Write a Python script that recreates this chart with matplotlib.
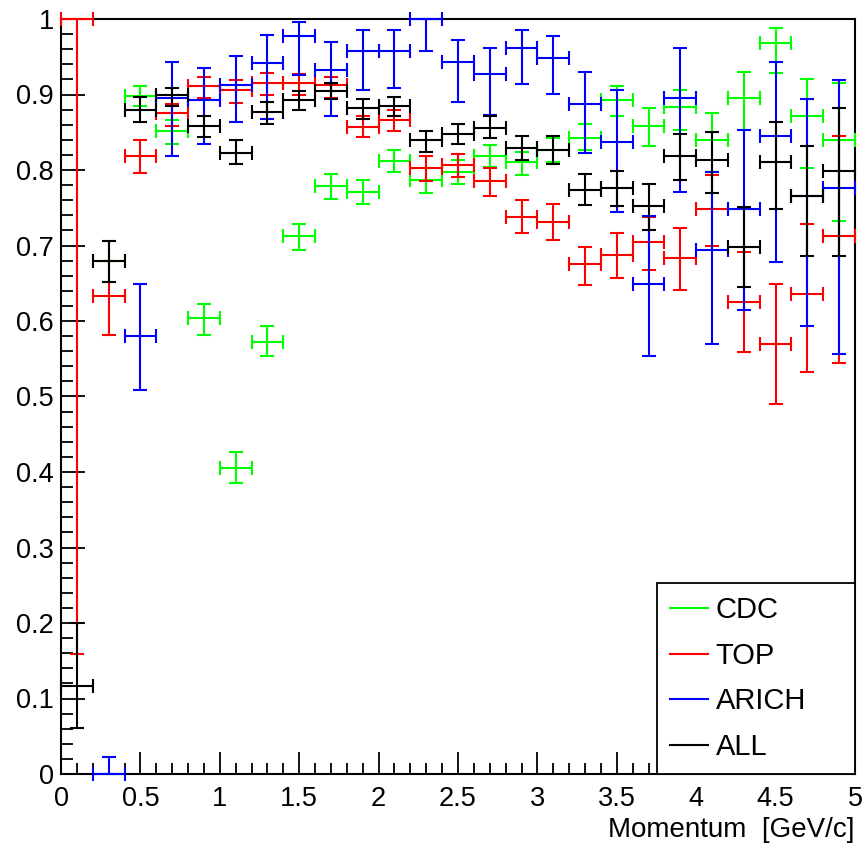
import numpy as np
import matplotlib.pyplot as plt
from matplotlib.lines import Line2D
from matplotlib.ticker import MultipleLocator, FormatStrFormatter

plt.rcParams['font.family'] = ['Liberation Sans', 'DejaVu Sans']

# momentum bins (GeV/c), 0.2 wide
p_centers = np.arange(0.1, 5.0, 0.2)
p_halfwidth = 0.1

# CDC efficiency and asymmetric errors
cdc = [np.nan, 0.680, 0.898, 0.852, 0.604, 0.405, 0.572, 0.712, 0.779, 0.771,
       0.812, 0.787, 0.798, 0.819, 0.810, 0.826, 0.843, 0.893, 0.858, 0.883,
       0.840, 0.895, 0.968, 0.872, 0.840]
cdc_lo = [0, 0.028, 0.013, 0.018, 0.022, 0.019, 0.019, 0.018, 0.017, 0.016,
          0.014, 0.017, 0.016, 0.015, 0.016, 0.016, 0.017, 0.021, 0.026, 0.030,
          0.042, 0.042, 0.040, 0.070, 0.108]
cdc_hi = [0, 0.026, 0.013, 0.014, 0.019, 0.021, 0.021, 0.016, 0.016, 0.016,
          0.014, 0.015, 0.015, 0.014, 0.014, 0.016, 0.018, 0.018, 0.024, 0.023,
          0.036, 0.035, 0.020, 0.049, 0.075]

# TOP
top = [1.0, 0.633, 0.819, 0.876, 0.911, 0.906, 0.915, 0.915, 0.912, 0.857,
       0.866, 0.802, 0.806, 0.785, 0.738, 0.731, 0.675, 0.688, 0.704, 0.684,
       0.749, 0.625, 0.569, 0.636, 0.713]
top_lo = [0.841, 0.051, 0.023, 0.018, 0.016, 0.017, 0.016, 0.015, 0.017, 0.013,
          0.015, 0.017, 0.015, 0.019, 0.021, 0.024, 0.027, 0.031, 0.036, 0.043,
          0.050, 0.066, 0.079, 0.104, 0.168]
top_hi = [0.0, 0.047, 0.021, 0.012, 0.012, 0.013, 0.013, 0.012, 0.011, 0.015,
          0.013, 0.017, 0.015, 0.017, 0.022, 0.024, 0.023, 0.029, 0.034, 0.039,
          0.045, 0.066, 0.080, 0.092, 0.132]

# ARICH
arich = [np.nan, 0.0, 0.580, 0.896, 0.893, 0.913, 0.942, 0.978, 0.932, 0.958,
         0.958, 1.0, 0.943, 0.927, 0.961, 0.948, 0.887, 0.837, 0.649, 0.895,
         0.694, 0.749, 0.845, 0.766, 0.776]
arich_lo = [0, 0.0, 0.071, 0.077, 0.058, 0.049, 0.074, 0.052, 0.060, 0.052,
            0.050, 0.043, 0.053, 0.054, 0.047, 0.047, 0.064, 0.092, 0.095, 0.124,
            0.125, 0.134, 0.167, 0.173, 0.220]
arich_hi = [0, 0.023, 0.069, 0.047, 0.042, 0.038, 0.037, 0.018, 0.037, 0.027,
            0.027, 0.0, 0.029, 0.034, 0.024, 0.029, 0.043, 0.069, 0.090, 0.066,
            0.104, 0.104, 0.098, 0.128, 0.143]

# ALL
allpid = [0.116, 0.679, 0.880, 0.899, 0.858, 0.823, 0.877, 0.893, 0.905, 0.882,
          0.885, 0.840, 0.848, 0.856, 0.829, 0.826, 0.774, 0.776, 0.752, 0.819,
          0.813, 0.698, 0.810, 0.766, 0.799]
allpid_lo = [0.055, 0.027, 0.017, 0.014, 0.014, 0.015, 0.016, 0.014, 0.011, 0.014,
             0.013, 0.016, 0.014, 0.013, 0.016, 0.018, 0.021, 0.024, 0.031, 0.032,
             0.043, 0.053, 0.061, 0.080, 0.113]
allpid_hi = [0.084, 0.027, 0.017, 0.010, 0.014, 0.017, 0.013, 0.011, 0.010, 0.012,
             0.012, 0.012, 0.013, 0.015, 0.016, 0.019, 0.021, 0.023, 0.029, 0.029,
             0.037, 0.053, 0.053, 0.066, 0.083]

series = [
    ("CDC", "#00ff00", cdc, cdc_lo, cdc_hi),
    ("TOP", "#ff0000", top, top_lo, top_hi),
    ("ARICH", "#0000ff", arich, arich_lo, arich_hi),
    ("ALL", "#000000", allpid, allpid_lo, allpid_hi),
]

fig = plt.figure(figsize=(8.66, 8.44), dpi=100)
ax = fig.add_axes([61 / 866, 1 - 774 / 844, 794 / 866, 755 / 844])

for i, (name, col, vals, lo, hi) in enumerate(series):
    eb = ax.errorbar(p_centers, vals, xerr=p_halfwidth, yerr=[lo, hi], fmt='none',
                     ecolor=col, elinewidth=1.5, capsize=5, capthick=1.5,
                     zorder=3 + i)
    for art in eb.lines[1] + eb.lines[2]:
        art.set_clip_on(False)

ax.set_xlim(0, 5)
ax.set_ylim(0, 1)

ax.xaxis.set_major_locator(MultipleLocator(0.5))
ax.xaxis.set_minor_locator(MultipleLocator(0.1))
ax.yaxis.set_major_locator(MultipleLocator(0.1))
ax.yaxis.set_minor_locator(MultipleLocator(0.02))
ax.xaxis.set_major_formatter(FormatStrFormatter('%g'))
ax.yaxis.set_major_formatter(FormatStrFormatter('%g'))

ax.tick_params(which='both', direction='in', top=False, right=False,
               width=1.3, labelsize=19.5)
ax.tick_params(axis='y', which='major', length=17, pad=5)
ax.tick_params(axis='y', which='minor', length=8.5)
ax.tick_params(axis='x', which='major', length=16, pad=9)
ax.tick_params(axis='x', which='minor', length=8)

for sp in ax.spines.values():
    sp.set_linewidth(1.5)

ax.set_xlabel('Momentum  [GeV/c]', loc='right', fontsize=20, labelpad=3)

handles = [Line2D([], [], color=col, lw=1.5) for _, col, _, _, _ in series]
labels = [s[0] for s in series]
leg = ax.legend(handles, labels, loc='lower left',
                bbox_to_anchor=(0.751, 0, 0.249, 0.249), mode='expand',
                fontsize=21, frameon=True, fancybox=False, framealpha=1,
                edgecolor='black', borderaxespad=0, borderpad=0.45,
                handlelength=1.3, handletextpad=0.25, labelspacing=0.6)
leg.get_frame().set_linewidth(1.3)
leg.set_zorder(10)

fig.savefig('out.png', dpi=100)
